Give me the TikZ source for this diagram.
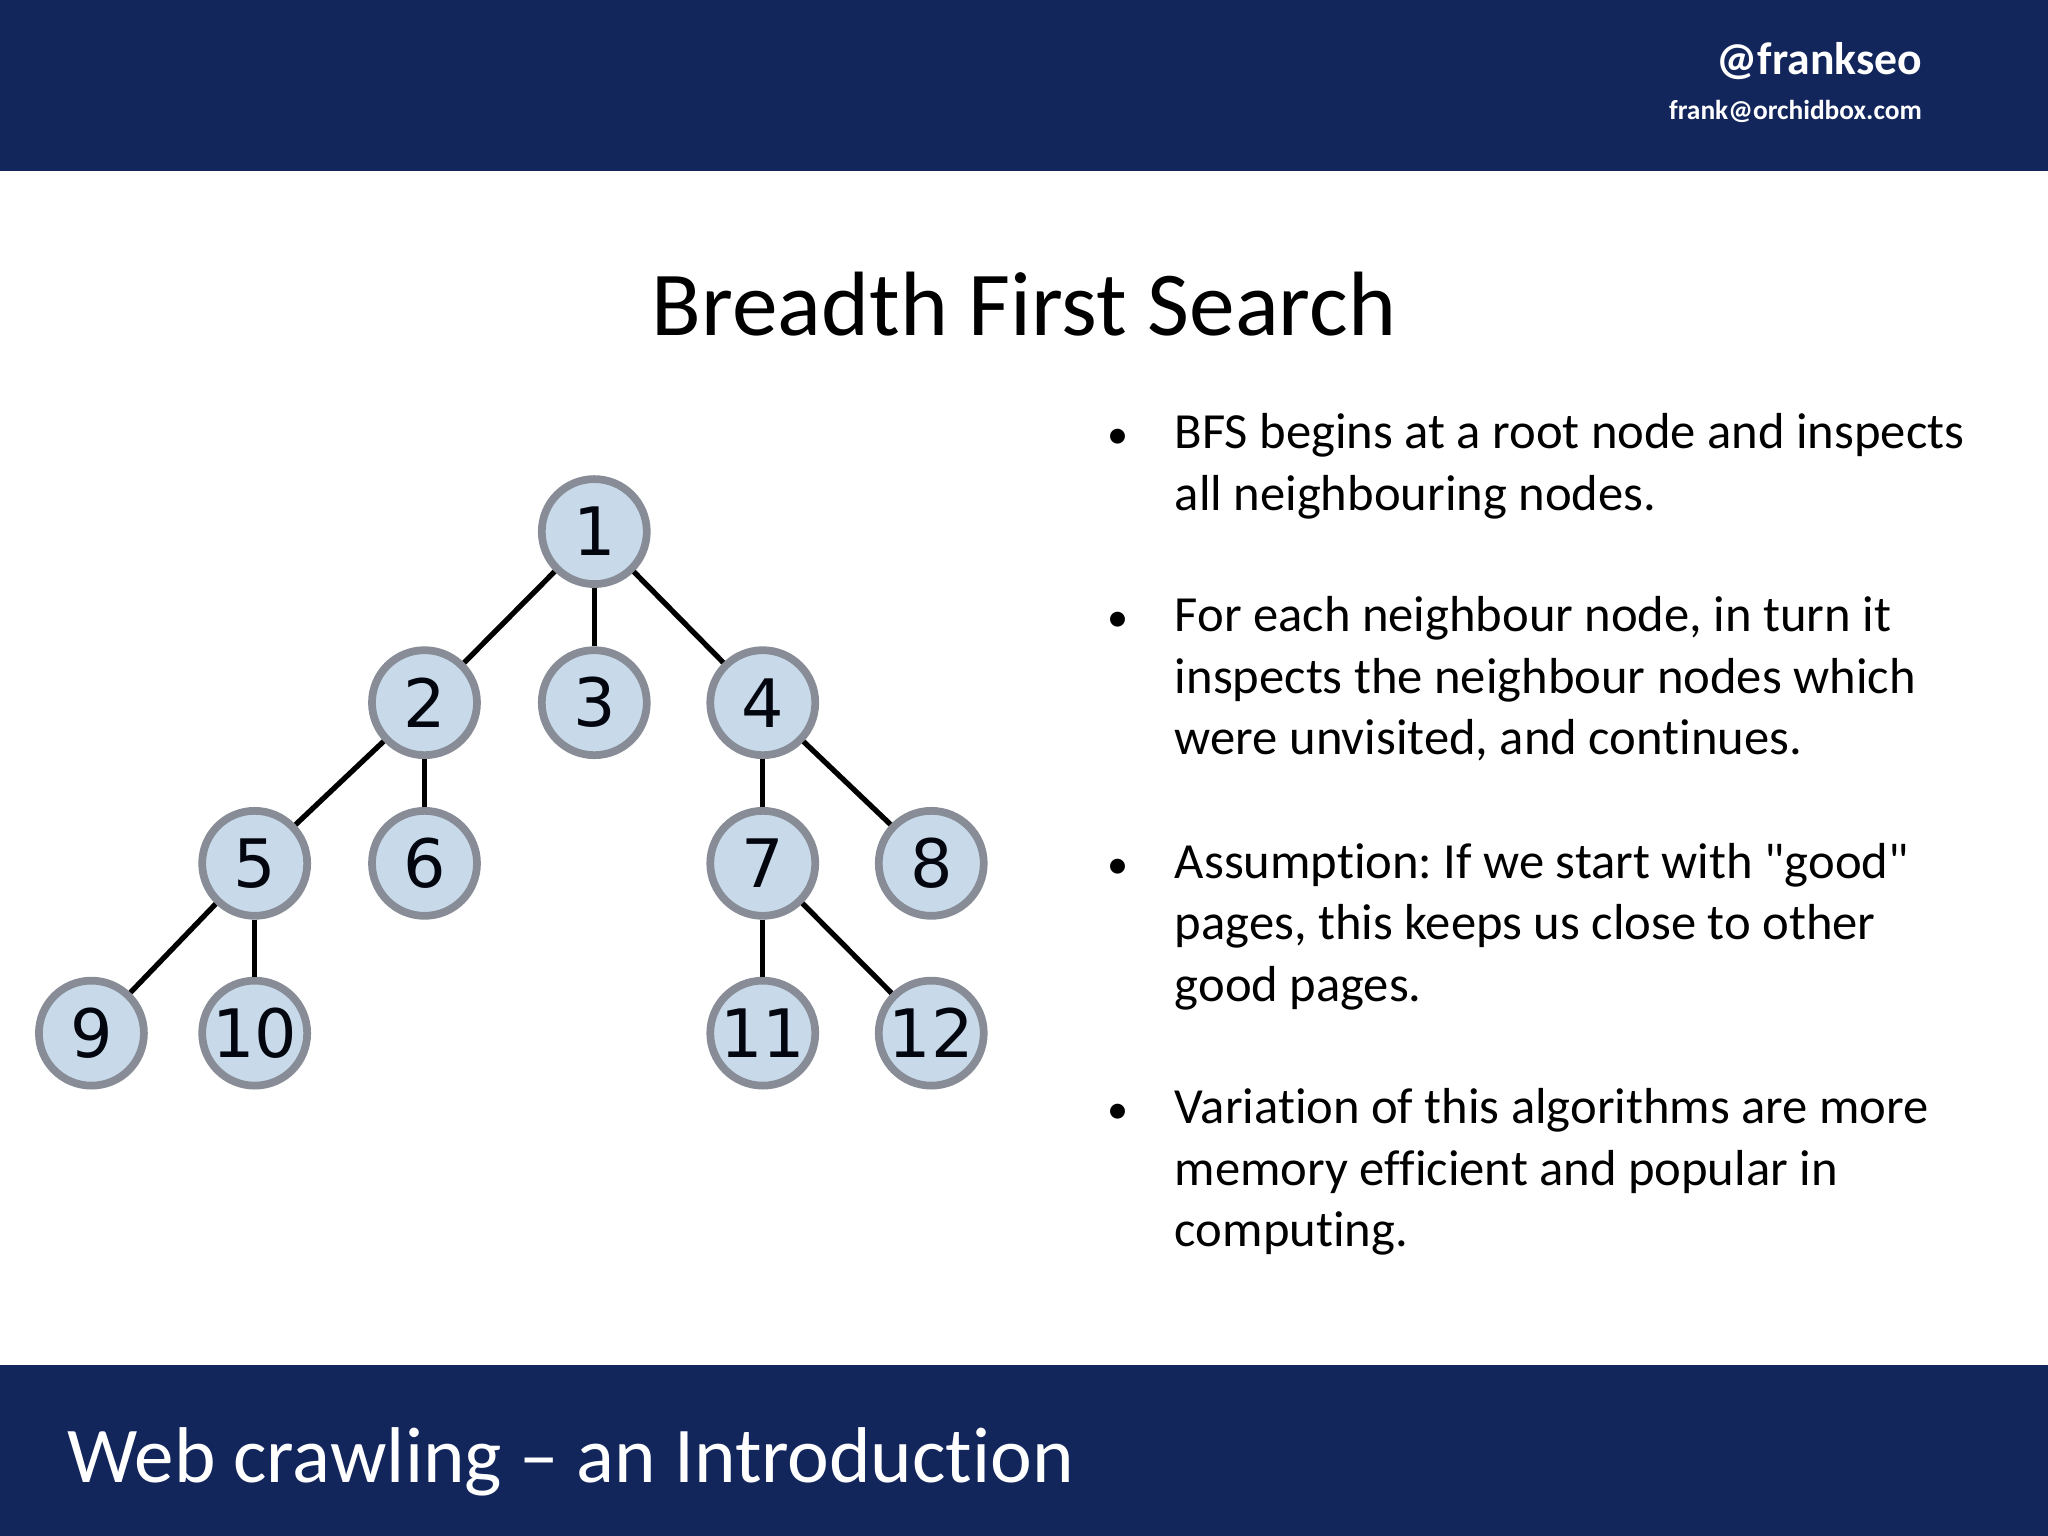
\documentclass[tikz,border=0pt]{standalone}
\usepackage{fontspec}
\setmainfont[Ligatures={TeX,NoCommon}]{Carlito}
\newfontfamily\numfont{DejaVu Sans}
\usetikzlibrary{shadows}
\definecolor{navy}{RGB}{19,38,92}
\definecolor{nodefill}{RGB}{200,218,234}
\definecolor{nodeedge}{RGB}{135,140,150}
\tikzset{
 tn/.style={circle,draw=nodeedge,line width=2.2pt,fill=nodefill,minimum size=1.05cm,inner sep=0pt,font=\numfont\fontsize{19}{19}\selectfont,text={black!85!navy},drop shadow={opacity=0.25,shadow xshift=0.03cm,shadow yshift=-0.03cm}},
 ed/.style={line width=1.5pt,black},
 bul/.style={anchor=north west,align=left,font=\frenchspacing\fontsize{14.4}{17.5}\selectfont,inner sep=0pt}
}
\begin{document}
\begin{tikzpicture}[x=0.013061cm,y=-0.013061cm]
\useasboundingbox (0,0) rectangle (1568,1176);
\fill[white] (0,0) rectangle (1568,1176);
\fill[navy] (0,0) rectangle (1568,131);
\fill[navy] (0,1045) rectangle (1568,1176);
\node[anchor=east,inner sep=0pt,text=white,font=\bfseries\fontsize{13}{14}\selectfont] (tw) at (1472,47) {@frankseo};
\node[anchor=east,inner sep=0pt,text=white,font=\bfseries\fontsize{7.8}{9}\selectfont] (em) at (1472,85) {frank@orchidbox.com};
\node[font=\fontsize{26}{30}\selectfont] (title) at (784,233) {Breadth First Search};
\node[anchor=west,text=white,font=\fontsize{22.5}{26}\selectfont] (foot) at (42,1119) {Web crawling -- an Introduction};
% tree
\node[tn] (n1) at (455,407) {1};
\node[tn] (n2) at (325,538) {2};
\node[tn] (n3) at (455,538) {3};
\node[tn] (n4) at (584,538) {4};
\node[tn] (n5) at (195,661) {5};
\node[tn] (n6) at (325,661) {6};
\node[tn] (n7) at (584,661) {7};
\node[tn] (n8) at (713,661) {8};
\node[tn] (n9) at (70,791) {9};
\node[tn] (n10) at (195,791) {10};
\node[tn] (n11) at (584,791) {11};
\node[tn] (n12) at (713,791) {12};
\foreach \a/\b in {n1/n2,n1/n3,n1/n4,n2/n5,n2/n6,n4/n7,n4/n8,n5/n9,n5/n10,n7/n11,n7/n12}
  \draw[ed] (\a) -- (\b);
% bullets
\foreach \y/\t [count=\i] in {
 310/{BFS begins at a root node and inspects\\all neighbouring nodes.},
 450/{For each neighbour node, in turn it\\inspects the neighbour nodes which\\were unvisited, and continues.},
 639/{Assumption: If we start with \textquotedbl good\textquotedbl\\pages, this keeps us close to other\\good pages.},
 827/{Variation of this algorithms are more\\memory efficient and popular in\\computing.}}
{
 \node[bul] (b\i) at (899,\y) {\strut\t};
 \node[bul,anchor=north,font=\fontsize{12}{17.5}\selectfont] (d\i) at (856,\y) {\strut\textbullet};
}
\end{tikzpicture}
\end{document}
